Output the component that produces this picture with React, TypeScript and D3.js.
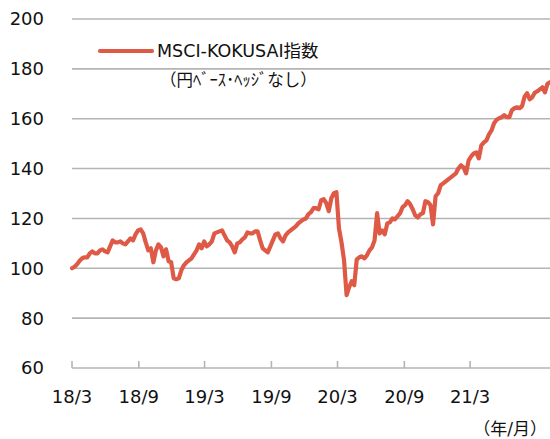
import React from 'react'
import * as d3 from 'd3'

// weekly index values, MSCI-KOKUSAI (JPY, unhedged), start = 100
const startDate = new Date(2018, 2, 1)
const kokusai = [
  100.0, 100.6, 101.6, 103.0, 104.0, 104.4, 104.4, 106.0, 106.8, 106.0,
  106.0, 107.2, 107.6, 106.8, 106.4, 108.8, 111.2, 110.4, 110.4, 110.8,
  110.0, 109.6, 110.8, 112.0, 111.2, 113.6, 115.2, 115.6, 114.0, 110.4,
  107.2, 108.0, 102.4, 107.2, 109.6, 108.4, 104.8, 107.6, 102.8, 102.4,
  96.0, 95.6, 96.0, 99.2, 101.2, 102.4, 103.2, 104.0, 105.6, 107.2,
  109.6, 108.0, 110.8, 108.8, 109.6, 110.8, 114.0, 114.4, 114.8, 115.2,
  113.2, 111.2, 110.4, 108.8, 106.4, 110.0, 110.4, 111.6, 112.4, 114.4,
  114.0, 114.0, 114.8, 114.8, 111.2, 108.0, 107.2, 106.4, 108.8, 111.2,
  113.6, 114.0, 112.0, 110.8, 113.2, 114.4, 115.2, 116.0, 116.8, 118.0,
  118.8, 119.6, 120.0, 121.7, 122.5, 124.1, 124.1, 123.7, 127.3, 127.7,
  126.1, 122.9, 128.1, 130.1, 130.5, 116.0, 110.4, 103.2, 89.2, 92.4,
  94.8, 93.2, 103.6, 104.4, 104.8, 104.0, 105.2, 107.2, 108.4, 111.2,
  122.1, 114.0, 115.2, 113.6, 118.0, 118.4, 120.0, 119.6, 120.8, 122.0,
  124.5, 125.3, 126.9, 125.7, 123.7, 121.2, 120.4, 121.6, 122.1, 126.9,
  126.5, 125.3, 117.6, 128.9, 130.1, 133.3, 134.1, 134.9, 135.7, 136.5,
  137.3, 138.1, 140.1, 141.3, 140.5, 138.1, 143.3, 144.9, 146.1, 146.5,
  144.1, 149.3, 150.5, 151.3, 153.7, 155.3, 158.2, 159.6, 160.2, 160.6,
  161.4, 160.6, 160.6, 163.4, 164.2, 164.6, 164.2, 165.0, 168.8, 170.2,
  167.8, 168.6, 170.4, 171.0, 171.8, 172.6, 170.6, 174.0, 174.6,
]

const yTicks = [60, 80, 100, 120, 140, 160, 180, 200]
const xTickMonths = ['2018-03', '2018-09', '2019-03', '2019-09', '2020-03', '2020-09', '2021-03']
const xTickLabels = ['18/3', '18/9', '19/3', '19/9', '20/3', '20/9', '21/3']
const legendLabel = 'MSCI-KOKUSAI指数'
const legendNote = '（円ﾍﾞｰｽ･ﾍｯｼﾞなし）'
const unitLabel = '（年/月）'

const W = 550
const H = 439
const font = "'DejaVu Sans', 'Noto Sans CJK JP', sans-serif"
const lineColor = '#de5a47'
const gridColor = '#b4b4b4'
const textColor = '#111'

const App = () => {
  const data = kokusai.map((v, i) => ({ date: d3.timeDay.offset(startDate, i * 7), value: v }))
  const parseMonth = d3.timeParse('%Y-%m')

  const x = d3.scaleTime()
    .domain([startDate, d3.timeDay.offset(startDate, 1316)])
    .range([72, 550])

  const y = d3.scaleLinear()
    .domain([60, 200])
    .range([368, 19])

  const line = d3.line<{ date: Date, value: number }>()
    .x(d => x(d.date))
    .y(d => y(d.value))

  return (
    <svg width={W} height={H} style={{ position: 'absolute', left: 0, top: 0, display: 'block' }}
      fontFamily={font}>
      <rect width={W} height={H} fill='#fff' />
      <g>
        {yTicks.map(t => (
          <g key={t}>
            <line x1={72} x2={W} y1={y(t)} y2={y(t)} stroke={gridColor} strokeWidth={1.6} />
            <text x={44} y={y(t)} dy='0.36em' textAnchor='end' fontSize={18} fill={textColor}>{t}</text>
          </g>
        ))}
      </g>
      <g>
        {xTickMonths.map((m, i) => {
          const px = x(parseMonth(m) as Date)
          return (
            <g key={m}>
              <line x1={px} x2={px} y1={y(60) - 7} y2={y(60)} stroke={gridColor} strokeWidth={1.6} />
              <text x={px} y={403} textAnchor='middle' fontSize={18} fill={textColor}>{xTickLabels[i]}</text>
            </g>
          )
        })}
        <text x={547} y={435} textAnchor='end' fontSize={17} fill={textColor}>{unitLabel}</text>
      </g>
      <path d={line(data) ?? ''} fill='none' stroke={lineColor} strokeWidth={4.2}
        strokeLinejoin='round' strokeLinecap='round' />
      <g>
        <line x1={100} x2={152} y1={51} y2={51} stroke={lineColor} strokeWidth={4.2} strokeLinecap='round' />
        <text x={157} y={51} dy='0.36em' fontSize={17.5} fill={textColor}>{legendLabel}</text>
        <text x={160} y={80} dy='0.36em' fontSize={16.5} fill={textColor}>{legendNote}</text>
      </g>
    </svg>
  )
}

export default App
